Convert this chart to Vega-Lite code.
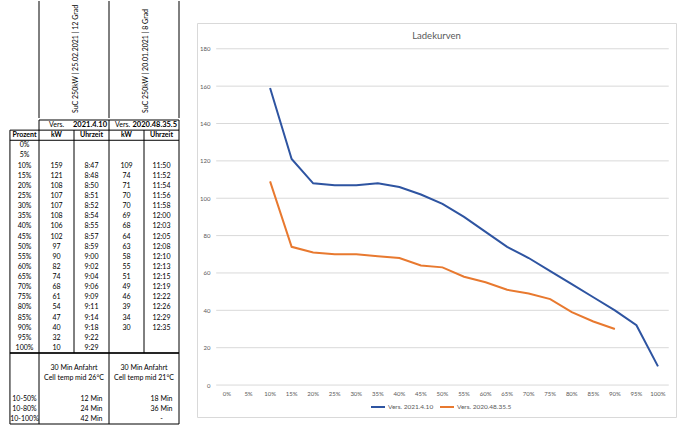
{
  "$schema": "https://vega.github.io/schema/vega-lite/v6.json",
  "background": "white",
  "padding": {"left": 4, "top": 0, "right": 0, "bottom": 0},
  "config": {
    "view": {"stroke": null},
    "font": "Lato",
    "text": {"font": "Lato", "fontSize": 7, "color": "#000000"},
    "rule": {"color": "#000000", "strokeWidth": 1}
  },
  "spacing": 16,
  "datasets": {
    "ladung": [
      {"p": "0%", "kw_a": null, "zeit_a": null, "kw_b": null, "zeit_b": null},
      {"p": "5%", "kw_a": null, "zeit_a": null, "kw_b": null, "zeit_b": null},
      {"p": "10%", "kw_a": 159, "zeit_a": "8:47", "kw_b": 109, "zeit_b": "11:50"},
      {"p": "15%", "kw_a": 121, "zeit_a": "8:48", "kw_b": 74, "zeit_b": "11:52"},
      {"p": "20%", "kw_a": 108, "zeit_a": "8:50", "kw_b": 71, "zeit_b": "11:54"},
      {"p": "25%", "kw_a": 107, "zeit_a": "8:51", "kw_b": 70, "zeit_b": "11:56"},
      {"p": "30%", "kw_a": 107, "zeit_a": "8:52", "kw_b": 70, "zeit_b": "11:58"},
      {"p": "35%", "kw_a": 108, "zeit_a": "8:54", "kw_b": 69, "zeit_b": "12:00"},
      {"p": "40%", "kw_a": 106, "zeit_a": "8:55", "kw_b": 68, "zeit_b": "12:03"},
      {"p": "45%", "kw_a": 102, "zeit_a": "8:57", "kw_b": 64, "zeit_b": "12:05"},
      {"p": "50%", "kw_a": 97, "zeit_a": "8:59", "kw_b": 63, "zeit_b": "12:08"},
      {"p": "55%", "kw_a": 90, "zeit_a": "9:00", "kw_b": 58, "zeit_b": "12:10"},
      {"p": "60%", "kw_a": 82, "zeit_a": "9:02", "kw_b": 55, "zeit_b": "12:13"},
      {"p": "65%", "kw_a": 74, "zeit_a": "9:04", "kw_b": 51, "zeit_b": "12:15"},
      {"p": "70%", "kw_a": 68, "zeit_a": "9:06", "kw_b": 49, "zeit_b": "12:19"},
      {"p": "75%", "kw_a": 61, "zeit_a": "9:09", "kw_b": 46, "zeit_b": "12:22"},
      {"p": "80%", "kw_a": 54, "zeit_a": "9:11", "kw_b": 39, "zeit_b": "12:26"},
      {"p": "85%", "kw_a": 47, "zeit_a": "9:14", "kw_b": 34, "zeit_b": "12:29"},
      {"p": "90%", "kw_a": 40, "zeit_a": "9:18", "kw_b": 30, "zeit_b": "12:35"},
      {"p": "95%", "kw_a": 32, "zeit_a": "9:22", "kw_b": null, "zeit_b": null},
      {"p": "100%", "kw_a": 10, "zeit_a": "9:29", "kw_b": null, "zeit_b": null}
    ],
    "versionen": [
      {"kw": "kw_a", "zeit": "zeit_a", "version": "2021.4.10", "test": "SuC 250kW | 25.02.2021 | 12 Grad", "anfahrt": "30 Min Anfahrt", "zelltemp": "Cell temp mid 26°C"},
      {"kw": "kw_b", "zeit": "zeit_b", "version": "2020.48.35.5", "test": "SuC 250kW | 20.01.2021 | 8 Grad", "anfahrt": "30 Min Anfahrt", "zelltemp": "Cell temp mid 21°C"}
    ],
    "kopfzeile": [
      {"spalte": "p", "titel": "Prozent"},
      {"spalte": "kw_a", "titel": "kW"},
      {"spalte": "zeit_a", "titel": "Uhrzeit"},
      {"spalte": "kw_b", "titel": "kW"},
      {"spalte": "zeit_b", "titel": "Uhrzeit"}
    ],
    "zusammenfassung": [
      {"bereich": "10-50%", "zeit_a": "12 Min", "zeit_b": "18 Min"},
      {"bereich": "10-80%", "zeit_a": "24 Min", "zeit_b": "36 Min"},
      {"bereich": "10-100%", "zeit_a": "42 Min", "zeit_b": "-"}
    ],
    "raster": [
      {"kw": 0}, {"kw": 20}, {"kw": 40}, {"kw": 60}, {"kw": 80},
      {"kw": 100}, {"kw": 120}, {"kw": 140}, {"kw": 160}, {"kw": 180}
    ]
  },
  "hconcat": [
    {
      "spacing": 0,
      "vconcat": [
        {
          "width": 175,
          "height": 117,
          "layer": [
            {
              "data": {"name": "versionen"},
              "mark": {"type": "rule"},
              "encoding": {
                "x": {"field": "kw", "type": "nominal", "bandPosition": 0, "axis": null,
                      "scale": {"type": "band", "domain": ["p", "kw_a", "zeit_a", "kw_b", "zeit_b"], "paddingInner": 0, "paddingOuter": 0}}
              }
            },
            {
              "data": {"values": [{}]},
              "mark": {"type": "rule"},
              "encoding": {
                "x": {"datum": "zeit_b", "type": "nominal", "bandPosition": 1, "axis": null}
              }
            },
            {
              "data": {"name": "versionen"},
              "mark": {"type": "text", "angle": 270, "align": "left", "baseline": "middle", "dx": 5, "dy": 2, "fontSize": 7},
              "encoding": {
                "x": {"field": "zeit", "type": "nominal", "bandPosition": 0, "axis": null},
                "y": {"datum": "test", "type": "nominal", "bandPosition": 1, "axis": null,
                      "scale": {"type": "band", "domain": ["test"], "paddingInner": 0, "paddingOuter": 0}},
                "text": {"field": "test"}
              }
            }
          ]
        },
        {
          "width": 175,
          "height": 304,
          "layer": [
            {
              "data": {"values": [{}]},
              "mark": {"type": "rule"},
              "encoding": {
                "x": {"datum": "kw_a", "type": "nominal", "bandPosition": 0, "axis": null,
                      "scale": {"type": "band", "domain": ["p", "kw_a", "zeit_a", "kw_b", "zeit_b"], "paddingInner": 0, "paddingOuter": 0}},
                "x2": {"datum": "zeit_b", "bandPosition": 1},
                "y": {"datum": "vers", "type": "nominal", "bandPosition": 0, "axis": null,
                      "scale": {"type": "band", "paddingInner": 0, "paddingOuter": 0,
                                "domain": ["vers", "kopf", "0%", "5%", "10%", "15%", "20%", "25%", "30%", "35%", "40%", "45%", "50%", "55%", "60%", "65%", "70%", "75%", "80%", "85%", "90%", "95%", "100%", "leer1", "anfahrt", "zelltemp", "leer2", "10-50%", "10-80%", "10-100%"]}}
              }
            },
            {
              "data": {"values": [{}]},
              "mark": {"type": "rule"},
              "encoding": {
                "x": {"datum": "p", "type": "nominal", "bandPosition": 0.17, "axis": null},
                "x2": {"datum": "zeit_b", "bandPosition": 1},
                "y": {"datum": "kopf", "type": "nominal", "bandPosition": 0, "axis": null}
              }
            },
            {
              "data": {"values": [{}]},
              "mark": {"type": "rule"},
              "encoding": {
                "x": {"datum": "p", "type": "nominal", "bandPosition": 0.17, "axis": null},
                "x2": {"datum": "zeit_b", "bandPosition": 1},
                "y": {"datum": "0%", "type": "nominal", "bandPosition": 0, "axis": null}
              }
            },
            {
              "data": {"values": [{}]},
              "mark": {"type": "rule", "strokeWidth": 2, "color": "#262626"},
              "encoding": {
                "x": {"datum": "p", "type": "nominal", "bandPosition": 0.17, "axis": null},
                "x2": {"datum": "zeit_b", "bandPosition": 1},
                "y": {"datum": "leer1", "type": "nominal", "bandPosition": 0, "axis": null}
              }
            },
            {
              "data": {"values": [{}]},
              "mark": {"type": "rule"},
              "encoding": {
                "x": {"datum": "p", "type": "nominal", "bandPosition": 0.17, "axis": null},
                "x2": {"datum": "zeit_b", "bandPosition": 1},
                "y": {"datum": "10-100%", "type": "nominal", "bandPosition": 1, "axis": null}
              }
            },
            {
              "data": {"name": "versionen"},
              "mark": {"type": "rule"},
              "encoding": {
                "x": {"field": "kw", "type": "nominal", "bandPosition": 0, "axis": null},
                "y": {"datum": "vers", "type": "nominal", "bandPosition": 0, "axis": null},
                "y2": {"datum": "10-100%", "bandPosition": 1}
              }
            },
            {
              "data": {"values": [{}]},
              "mark": {"type": "rule"},
              "encoding": {
                "x": {"datum": "zeit_b", "type": "nominal", "bandPosition": 1, "axis": null},
                "y": {"datum": "vers", "type": "nominal", "bandPosition": 0, "axis": null},
                "y2": {"datum": "10-100%", "bandPosition": 1}
              }
            },
            {
              "data": {"values": [{}]},
              "mark": {"type": "rule"},
              "encoding": {
                "x": {"datum": "p", "type": "nominal", "bandPosition": 0.17, "axis": null},
                "y": {"datum": "kopf", "type": "nominal", "bandPosition": 0, "axis": null},
                "y2": {"datum": "10-100%", "bandPosition": 1}
              }
            },
            {
              "data": {"name": "versionen"},
              "mark": {"type": "rule"},
              "encoding": {
                "x": {"field": "zeit", "type": "nominal", "bandPosition": 0, "axis": null},
                "y": {"datum": "kopf", "type": "nominal", "bandPosition": 0, "axis": null},
                "y2": {"datum": "leer1", "bandPosition": 0}
              }
            },
            {
              "data": {"name": "versionen"},
              "transform": [{"filter": "datum.kw == 'kw_a'"}],
              "mark": {"type": "text", "align": "left", "dx": 10, "text": "Vers."},
              "encoding": {
                "x": {"field": "kw", "type": "nominal", "bandPosition": 0, "axis": null},
                "y": {"datum": "vers", "type": "nominal", "axis": null}
              }
            },
            {
              "data": {"name": "versionen"},
              "transform": [{"filter": "datum.kw == 'kw_b'"}],
              "mark": {"type": "text", "align": "left", "dx": 6, "text": "Vers."},
              "encoding": {
                "x": {"field": "kw", "type": "nominal", "bandPosition": 0, "axis": null},
                "y": {"datum": "vers", "type": "nominal", "axis": null}
              }
            },
            {
              "data": {"name": "versionen"},
              "mark": {"type": "text", "align": "right", "dx": -2, "fontWeight": "bold", "fontSize": 7.5},
              "encoding": {
                "x": {"field": "zeit", "type": "nominal", "bandPosition": 1, "axis": null},
                "y": {"datum": "vers", "type": "nominal", "axis": null},
                "text": {"field": "version"}
              }
            },
            {
              "data": {"name": "kopfzeile"},
              "transform": [{"filter": "datum.spalte != 'p'"}],
              "mark": {"type": "text", "fontWeight": "bold"},
              "encoding": {
                "x": {"field": "spalte", "type": "nominal", "axis": null},
                "y": {"datum": "kopf", "type": "nominal", "axis": null},
                "text": {"field": "titel"}
              }
            },
            {
              "data": {"name": "kopfzeile"},
              "transform": [{"filter": "datum.spalte == 'p'"}],
              "mark": {"type": "text", "fontWeight": "bold", "dx": 3},
              "encoding": {
                "x": {"field": "spalte", "type": "nominal", "axis": null},
                "y": {"datum": "kopf", "type": "nominal", "axis": null},
                "text": {"field": "titel"}
              }
            },
            {
              "data": {"name": "ladung"},
              "transform": [
                {"fold": ["kw_a", "zeit_a", "kw_b", "zeit_b"], "as": ["spalte", "wert"]},
                {"filter": "datum.wert != null"}
              ],
              "mark": {"type": "text"},
              "encoding": {
                "x": {"field": "spalte", "type": "nominal", "axis": null},
                "y": {"field": "p", "type": "nominal", "axis": null},
                "text": {"field": "wert"}
              }
            },
            {
              "data": {"name": "ladung"},
              "mark": {"type": "text", "dx": 3},
              "encoding": {
                "x": {"datum": "p", "type": "nominal", "axis": null},
                "y": {"field": "p", "type": "nominal", "axis": null},
                "text": {"field": "p"}
              }
            },
            {
              "data": {"name": "versionen"},
              "mark": {"type": "text"},
              "encoding": {
                "x": {"field": "zeit", "type": "nominal", "bandPosition": 0, "axis": null},
                "y": {"datum": "anfahrt", "type": "nominal", "axis": null},
                "text": {"field": "anfahrt"}
              }
            },
            {
              "data": {"name": "versionen"},
              "mark": {"type": "text"},
              "encoding": {
                "x": {"field": "zeit", "type": "nominal", "bandPosition": 0, "axis": null},
                "y": {"datum": "zelltemp", "type": "nominal", "axis": null},
                "text": {"field": "zelltemp"}
              }
            },
            {
              "data": {"name": "zusammenfassung"},
              "transform": [{"fold": ["zeit_a", "zeit_b"], "as": ["spalte", "wert"]}],
              "mark": {"type": "text"},
              "encoding": {
                "x": {"field": "spalte", "type": "nominal", "axis": null},
                "y": {"field": "bereich", "type": "nominal", "axis": null},
                "text": {"field": "wert"}
              }
            },
            {
              "data": {"name": "zusammenfassung"},
              "mark": {"type": "text", "dx": 3},
              "encoding": {
                "x": {"datum": "p", "type": "nominal", "axis": null},
                "y": {"field": "bereich", "type": "nominal", "axis": null},
                "text": {"field": "bereich"}
              }
            }
          ]
        }
      ]
    },
    {
      "spacing": 0,
      "vconcat": [
        {
          "width": 479,
          "height": 21,
          "data": {"values": [{}]},
          "mark": {"type": "text", "text": ""}
        },
        {
          "width": 479,
          "height": 394,
          "view": {"stroke": "#d9d9d9", "strokeWidth": 1},
          "title": {
            "text": "Ladekurven",
            "font": "Lato",
            "fontSize": 9.5,
            "fontWeight": "normal",
            "color": "#595959",
            "anchor": "middle",
            "frame": "group",
            "baseline": "alphabetic",
            "offset": -25
          },
          "layer": [
            {
              "data": {"name": "raster"},
              "mark": {"type": "rule", "color": "#d9d9d9", "strokeWidth": 1},
              "encoding": {
                "x": {"datum": "0%", "type": "nominal", "bandPosition": 0,
                      "scale": {"type": "band", "paddingInner": 0, "paddingOuter": 0.6137, "align": 0.726,
                                "domain": ["0%", "5%", "10%", "15%", "20%", "25%", "30%", "35%", "40%", "45%", "50%", "55%", "60%", "65%", "70%", "75%", "80%", "85%", "90%", "95%", "100%"]},
                      "axis": {"orient": "bottom", "offset": -29, "domain": false, "ticks": false, "tickSize": 0, "grid": false,
                               "labelPadding": 2, "labelAngle": 0, "labelFont": "Lato", "labelFontSize": 6, "labelColor": "#595959", "title": null}},
                "x2": {"datum": "100%", "bandPosition": 1},
                "y": {"field": "kw", "type": "quantitative",
                      "scale": {"domain": [-17.1, 193.8], "nice": false, "zero": false},
                      "axis": {"values": [0, 20, 40, 60, 80, 100, 120, 140, 160, 180], "offset": -16, "domain": false, "ticks": false, "tickSize": 0, "grid": false,
                               "labelPadding": 3, "labelFont": "Lato", "labelFontSize": 6, "labelColor": "#595959", "title": null}}
              }
            },
            {
              "data": {"name": "ladung"},
              "transform": [
                {"fold": ["kw_a", "kw_b"], "as": ["version", "kw"]},
                {"filter": "datum.kw != null"}
              ],
              "mark": {"type": "line", "strokeWidth": 2},
              "encoding": {
                "x": {"field": "p", "type": "nominal", "bandPosition": 0.5,
                      "axis": {"orient": "bottom", "offset": -29, "domain": false, "ticks": false, "tickSize": 0, "grid": false,
                               "labelPadding": 2, "labelAngle": 0, "labelFont": "Lato", "labelFontSize": 6, "labelColor": "#595959", "title": null}},
                "y": {"field": "kw", "type": "quantitative",
                      "axis": {"values": [0, 20, 40, 60, 80, 100, 120, 140, 160, 180], "offset": -16, "domain": false, "ticks": false, "tickSize": 0, "grid": false,
                               "labelPadding": 3, "labelFont": "Lato", "labelFontSize": 6, "labelColor": "#595959", "title": null}},
                "color": {"field": "version", "type": "nominal",
                          "scale": {"domain": ["kw_a", "kw_b"], "range": ["#2E54A1", "#E8792F"]},
                          "legend": {"orient": "none", "legendX": 366, "legendY": 398, "direction": "horizontal", "title": null,
                                     "symbolType": "stroke", "symbolSize": 196, "symbolStrokeWidth": 2, "labelOffset": 2, "columnPadding": 2,
                                     "labelFont": "Lato", "labelFontSize": 6.5, "labelColor": "#595959",
                                     "labelExpr": "datum.value == 'kw_a' ? 'Vers. 2021.4.10' : 'Vers. 2020.48.35.5'"}}
              }
            }
          ]
        }
      ]
    }
  ]
}
